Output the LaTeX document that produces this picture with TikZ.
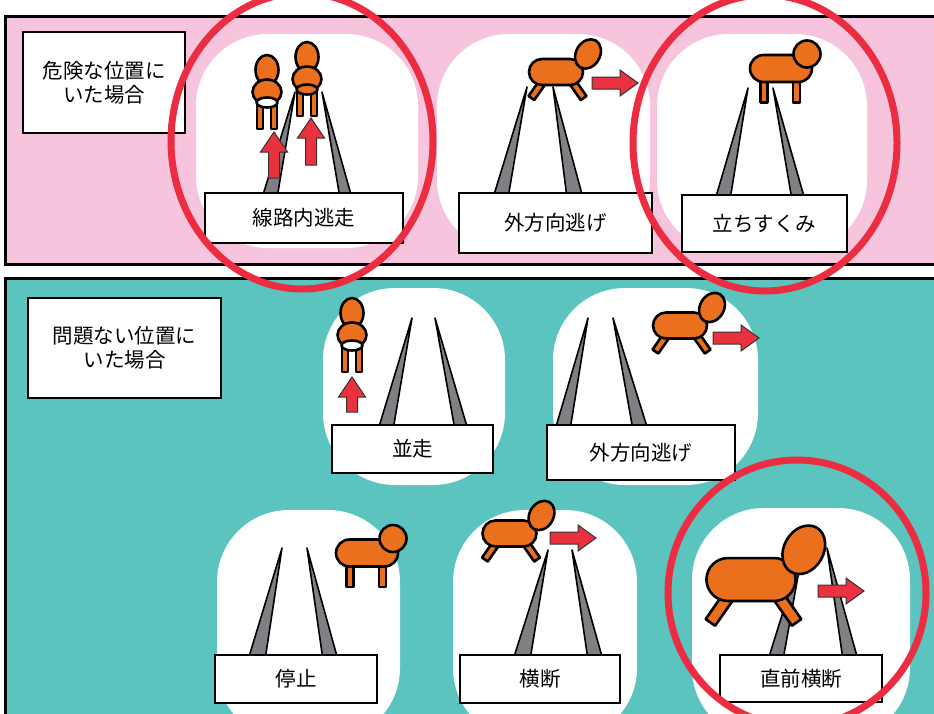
\documentclass[tikz,border=0pt]{standalone}
\usepackage{fontspec}
\setmainfont{Noto Sans CJK JP}
\usepackage{tikz}
\usetikzlibrary{positioning}
\usepackage{xcolor}

\definecolor{panelpink}{RGB}{246,197,221}
\definecolor{panelteal}{RGB}{92,196,190}
\definecolor{deerorange}{RGB}{234,112,30}
\definecolor{arrowred}{RGB}{234,50,62}
\definecolor{ringred}{RGB}{236,44,64}
\definecolor{railgray}{RGB}{128,128,132}

% two rails in perspective: top x left, feet x left, top x right, feet x right, top y, foot y
\newcommand{\railpair}[8]{%
  \draw[rail] (#1,#7) -- (#2,#8) -- (#3,#8) -- cycle;
  \draw[rail] (#4,#7) -- (#5,#8) -- (#6,#8) -- cycle;}

% deer seen from behind, rump colour as third argument
\newcommand{\deerback}[3]{%
  \begin{scope}[shift={(#1,#2)}]
    \draw[deer] (-10,6) rectangle (-4,37);
    \draw[deer] (4,6) rectangle (10,37);
    \draw[deer] (0,-22) ellipse[x radius=11.5, y radius=15];
    \draw[deer] (0,0) ellipse[x radius=14.5, y radius=12.5];
    \draw[deer, fill=#3] (0,10.5) ellipse[x radius=10.5, y radius=5];
  \end{scope}}

% deer running sideways (optional scale)
\newcommand{\deerrun}[3][1]{%
  \begin{scope}[shift={(#2,#3)}, scale=#1]
    \begin{scope}[shift={(-12,8)}, rotate=-35]
      \draw[deer] (-3.5,-6) rectangle (3.5,22);
    \end{scope}
    \begin{scope}[shift={(15,8)}, rotate=35]
      \draw[deer] (-3.5,-6) rectangle (3.5,22);
    \end{scope}
    \draw[deer] (-14,-13) arc[start angle=270, end angle=90, radius=13]
      -- (14,13) arc[start angle=90, end angle=-90, radius=13] -- cycle;
    \draw[deer] (32,-18) ellipse[x radius=12, y radius=15.5, rotate=-30];
  \end{scope}}

% deer standing still
\newcommand{\deerstand}[2]{%
  \begin{scope}[shift={(#1,#2)}]
    \draw[deer] (-20.5,5) rectangle (-13.5,34);
    \draw[deer] (12,5) rectangle (19,34);
    \draw[deer] (-17.5,-13.5) arc[start angle=270, end angle=90, radius=13.5]
      -- (17.5,13.5) arc[start angle=90, end angle=-90, radius=13.5] -- cycle;
    \draw[deer] (26,-14.5) circle[radius=13.5];
  \end{scope}}

% block arrows
\newcommand{\pushup}[3]{%
  \begin{scope}[shift={(#1,#2)}]
    \draw[push] (-5.5,0) -- (-5.5,-#3) -- (-13.5,-#3) -- (0,-#3-20)
      -- (13.5,-#3) -- (5.5,-#3) -- (5.5,0) -- cycle;
  \end{scope}}
\newcommand{\pushright}[2]{%
  \begin{scope}[shift={(#1,#2)}]
    \draw[push] (0,-6) -- (28,-6) -- (28,-13) -- (46,0)
      -- (28,13) -- (28,6) -- (0,6) -- cycle;
  \end{scope}}

\begin{document}
\begin{tikzpicture}[
  x=1pt, y=-1pt,
  panel/.style={draw=black, line width=3pt},
  spot/.style={fill=white, rounded corners=72pt},
  rail/.style={draw=black, fill=railgray, line width=1.6pt, line join=round},
  tag/.style={draw=black, fill=white, line width=2.2pt, inner sep=0pt,
              font=\fontsize{20.5}{24}\selectfont, align=center},
  deer/.style={draw=black, fill=deerorange, line width=2.6pt, line join=round},
  push/.style={draw=black!80, fill=arrowred, line width=1pt},
  ring/.style={draw=ringred, line width=7pt}
]
\useasboundingbox (0,0) rectangle (934,713);
\clip (0,0) rectangle (934,713);

% the two bands
\draw[panel, fill=panelpink] (5,16) rectangle (945,264);
\draw[panel, fill=panelteal] (5,278) rectangle (945,735);

% white spots behind each case
\fill[spot] (196,34) rectangle (418,248);
\fill[spot] (437,34) rectangle (650,252);
\fill[spot] (657,34) rectangle (867,252);
\fill[spot] (323,288) rectangle (505,485);
\fill[spot] (553,288) rectangle (758,485);
\fill[spot] (217,510) rectangle (400,740);
\fill[spot] (453,510) rectangle (637,740);
\fill[spot] (692,508) rectangle (910,740);

% rails
\railpair{295}{262}{277}{322}{340}{352}{92}{198}
\railpair{527}{493}{508}{553}{567}{583}{87}{198}
\railpair{748}{715}{730}{773}{792}{805}{88}{200}
\railpair{412}{378}{393}{435}{455}{468}{318}{430}
\railpair{588}{555}{570}{613}{633}{648}{318}{430}
\railpair{282}{248}{265}{307}{323}{338}{548}{660}
\railpair{548}{513}{530}{572}{588}{603}{550}{660}
\railpair{803}{768}{783}{827}{843}{858}{548}{660}

% captions
\node[tag, minimum width=162pt, minimum height=101pt] (danger) at (104,82.5) {危険な位置に\\いた場合};
\node[tag, minimum width=193pt, minimum height=100pt] (safe) at (124.5,348) {問題ない位置に\\いた場合};
\node[tag, minimum width=198pt, minimum height=50pt] (inline) at (304,218) {線路内逃走};
\node[tag, minimum width=193pt, minimum height=60pt] (awayA) at (555.5,223) {外方向逃げ};
\node[tag, minimum width=165pt, minimum height=57pt] (freeze) at (764.5,223.5) {立ちすくみ};
\node[tag, minimum width=161pt, minimum height=48pt] (parallel) at (412.5,449) {並走};
\node[tag, minimum width=188pt, minimum height=55pt] (awayB) at (641,452.5) {外方向逃げ};
\node[tag, minimum width=162pt, minimum height=48pt] (halt) at (296,679) {停止};
\node[tag, minimum width=160pt, minimum height=48pt] (cross) at (540,679) {横断};
\node[tag, minimum width=162pt, minimum height=47pt] (lastcross) at (801,678.5) {直前横断};

% deer and their moves
\deerback{267}{92}{white}
\deerback{307}{79}{deerorange}
\pushup{274}{178}{26}
\pushup{311}{165}{27}
\deerrun{556}{72}
\pushright{592}{83}
\deerstand{781}{68.5}

\deerback{352}{335}{white}
\pushup{352}{412}{15}
\deerrun{680}{325.5}
\pushright{713}{338}

\deerstand{367}{553}
\deerrun{509.5}{533.5}
\pushright{550}{538}
\deerrun[1.65]{751}{579.5}
\pushright{818}{591}

% rings round the risky cases
\draw[ring] (302,141) ellipse[x radius=131, y radius=148];
\draw[ring] (765,143) ellipse[x radius=132, y radius=148];
\draw[ring] (797,593) ellipse[x radius=129, y radius=133];
\end{tikzpicture}
\end{document}
